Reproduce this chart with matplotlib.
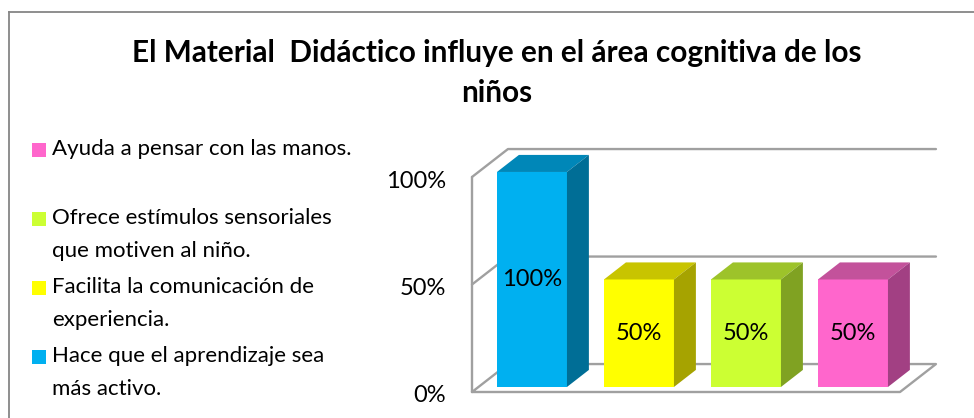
import numpy as np
import matplotlib
matplotlib.use("Agg")
import matplotlib.pyplot as plt
from matplotlib.patches import Polygon, Rectangle
from matplotlib.lines import Line2D

# --- Data ---
categories = [
    "Hace que el aprendizaje sea\nmás activo.",
    "Facilita la comunicación de\nexperiencia.",
    "Ofrece estímulos sensoriales\nque motiven al niño.",
    "Ayuda a pensar con las manos.",
]
values = [100, 50, 50, 50]
value_labels = ["100%", "50%", "50%", "50%"]
y_ticks = [0, 50, 100]
y_tick_labels = ["0%", "50%", "100%"]
title = "El Material  Didáctico influye en el área cognitiva de los\nniños"

# front / top / side shades for each bar
front_colors = ["#00B0F0", "#FFFF00", "#CCFF33", "#FF66CC"]
top_colors = ["#0087B8", "#C8C400", "#9DC32A", "#C3529B"]
side_colors = ["#006E96", "#A6A300", "#80A222", "#A24083"]

plt.rcParams["font.family"] = ["Lato", "DejaVu Sans"]

W, H = 974, 418
fig = plt.figure(figsize=(W / 100, H / 100), dpi=100)

# pseudo-3D projection: depth z in [0, 1] shifts right and up
WALL_DX = 0.336   # category units
WALL_DY = 13.0    # percent units
BAR_Z0, BAR_Z1 = 0.18, 0.79
BAR_W = 0.654
n = len(values)

# axes placed so that floor front-left corner sits at (472, 392) px
px_per_cat, px_per_pct = 107.0, 2.15
x0_px, y0_px = 472.0, 392.0
xlim = (-1.0, 4.1)
ylim = (-5, 120)
left_px = x0_px + (xlim[0] + 0.5) * px_per_cat
right_px = x0_px + (xlim[1] + 0.5) * px_per_cat
bot_px = y0_px - ylim[0] * px_per_pct
top_px = y0_px - ylim[1] * px_per_pct
ax = fig.add_axes([left_px / W, 1 - bot_px / H,
                   (right_px - left_px) / W, (bot_px - top_px) / H])
ax.set_xlim(*xlim)
ax.set_ylim(*ylim)
ax.axis("off")


def proj(x, y, z):
    return (x + z * WALL_DX, y + z * WALL_DY)


wall_kw = dict(color="#A0A0A0", lw=1.7, solid_capstyle="round", zorder=1)
x_lo, x_hi = -0.5, n - 0.5
# floor
fl = [proj(x_lo, 0, 0), proj(x_hi, 0, 0), proj(x_hi, 0, 1), proj(x_lo, 0, 1), proj(x_lo, 0, 0)]
ax.plot([p[0] for p in fl], [p[1] for p in fl], **wall_kw)
# left wall front edge
ax.plot([x_lo, x_lo], [0, max(y_ticks)], **wall_kw)
# gridlines on side + back wall
for t in y_ticks[1:]:
    a, b, c = proj(x_lo, t, 0), proj(x_lo, t, 1), proj(x_hi, t, 1)
    ax.plot([a[0], b[0], c[0]], [a[1], b[1], c[1]], **wall_kw)

# tick labels
for t, lab in zip(y_ticks, y_tick_labels):
    ax.annotate(lab, (x_lo, t), xytext=(-26, -4), textcoords="offset pixels",
                ha="right", va="center", fontsize=17, color="#000000")

# bars
for i, v in enumerate(values):
    xa, xb = i - BAR_W / 2, i + BAR_W / 2
    front = [proj(xa, 0, BAR_Z0), proj(xb, 0, BAR_Z0), proj(xb, v, BAR_Z0), proj(xa, v, BAR_Z0)]
    top = [proj(xa, v, BAR_Z0), proj(xb, v, BAR_Z0), proj(xb, v, BAR_Z1), proj(xa, v, BAR_Z1)]
    side = [proj(xb, 0, BAR_Z0), proj(xb, 0, BAR_Z1), proj(xb, v, BAR_Z1), proj(xb, v, BAR_Z0)]
    ax.add_patch(Polygon(front, closed=True, fc=front_colors[i], ec="none", zorder=3))
    ax.add_patch(Polygon(top, closed=True, fc=top_colors[i], ec="none", zorder=3))
    ax.add_patch(Polygon(side, closed=True, fc=side_colors[i], ec="none", zorder=3))
    cx, cy = proj(i, v / 2, BAR_Z0)
    ax.text(cx, cy, value_labels[i], ha="center", va="center", fontsize=17,
            color="#000000", zorder=4)

# chart border (only left and top edges are inside the picture)
fig.add_artist(Line2D([9 / W, 9 / W], [0, 1 - 12 / H], color="#868686", lw=1.3))
fig.add_artist(Line2D([9 / W, 1], [1 - 12 / H, 1 - 12 / H], color="#868686", lw=1.3))

# title
fig.text(497 / W, 1 - 73 / H, title, ha="center", va="center", fontsize=21.4,
         fontweight="bold", linespacing=1.55)

# legend (reverse order, like the original)
leg_rows = [150, 219, 288, 357]
for row, idx in zip(leg_rows, reversed(range(n))):
    fig.add_artist(Rectangle((32 / W, 1 - (row + 7) / H), 14 / W, 14 / H,
                             transform=fig.transFigure, fc=front_colors[idx], ec="none"))
    fig.text(52 / W, 1 - (row - 11) / H, categories[idx], ha="left", va="top",
             fontsize=16, linespacing=1.8)

fig.savefig("out.png", dpi=100)
